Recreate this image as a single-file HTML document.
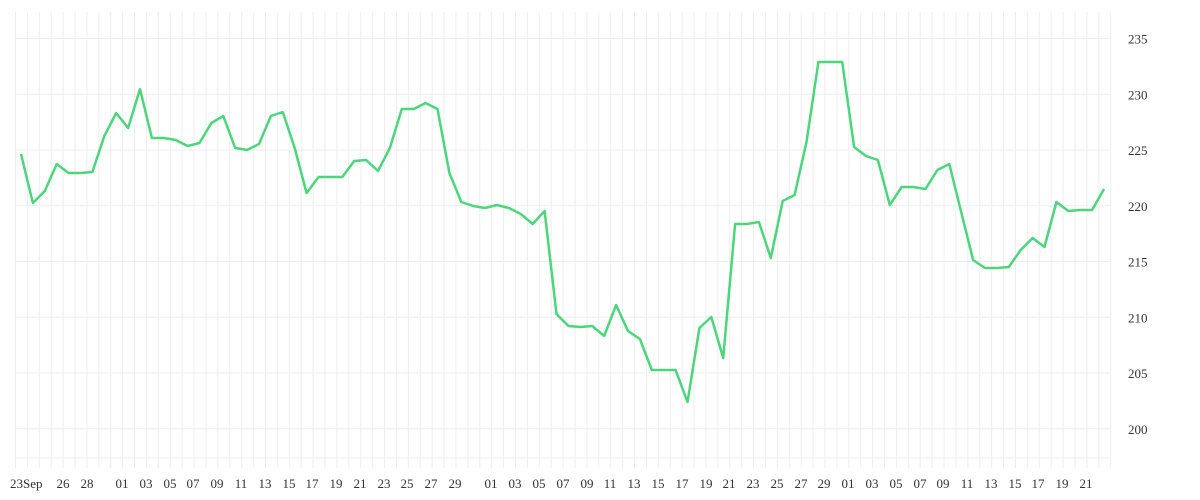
<!DOCTYPE html>
<html><head><meta charset="utf-8"><style>
html,body{margin:0;padding:0;background:#fff;}
svg{display:block;}
text{font-family:"Liberation Serif",serif;font-size:13px;fill:#333;}
</style></head><body>
<svg id="s" width="1200" height="500" xmlns="http://www.w3.org/2000/svg">
<g id="grid" stroke="#eeeeee" stroke-width="1"></g>
<g id="xl"></g>
<g id="yl"></g>
<polyline id="line" fill="none" stroke="#4cd67c" stroke-width="2.5" stroke-linejoin="round"></polyline>
</svg>
<script>
var ns="http://www.w3.org/2000/svg",g=document.getElementById('grid');
function el(p,t,a,txt){var e=document.createElementNS(ns,t);for(var k in a)e.setAttribute(k,a[k]);if(txt)e.textContent=txt;p.appendChild(e);return e;}
for(var i=0;i<93;i++){var x=15.5+i*(1095.2/92);el(g,'line',{x1:x,x2:x,y1:12,y2:468});}
function Y(v){return 38.5+(235-v)*11.15;}
var yl=document.getElementById('yl');
for(var v=200;v<=235;v+=5){var y=Y(v);el(g,'line',{x1:15.5,x2:1110.7,y1:y,y2:y});el(yl,'text',{x:1128,y:y+5},String(v));}
el(g,'line',{x1:15.5,x2:1110.7,y1:458,y2:458});
var labs=[[10,'23Sep'],[63,'26'],[87,'28'],[122,'01'],[146,'03'],[170,'05'],[193,'07'],[217,'09'],[241,'11'],[265,'13'],[289,'15'],[312,'17'],[336,'19'],[360,'21'],[384,'23'],[407,'25'],[431,'27'],[455,'29'],[491,'01'],[515,'03'],[539,'05'],[563,'07'],[587,'09'],[610,'11'],[634,'13'],[658,'15'],[682,'17'],[706,'19'],[729,'21'],[753,'23'],[777,'25'],[801,'27'],[824,'29'],[848,'01'],[872,'03'],[896,'05'],[920,'07'],[943,'09'],[967,'11'],[991,'13'],[1015,'15'],[1038,'17'],[1062,'19'],[1086,'21']];
var xl=document.getElementById('xl');
labs.forEach(function(l){var t=el(xl,'text',{x:l[0],y:488},l[1]);if(l[0]!==10)t.setAttribute('text-anchor','middle');});
var ys=[154,203,191,164,173,173,172,136,113,128,89,138,138,140,146,143,123,116,148,150,144,116,112,148,193,177,177,177,161,160,171,148,109,109,103,109,173,202,206,208,205,208,214,224,211,314,326,327,326,336,305,331,339,370,370,370,402,328,317,358,224,224,222,258,201,195,142,62,62,62,147,156,160,205,187,187,189,170,164,212,260,268,268,267,250,238,247,202,211,210,210,189];
var pts=ys.map(function(y,i){return (21+i*(1083/91)).toFixed(1)+','+y;}).join(' ');
document.getElementById('line').setAttribute('points',pts);
</script>
</body></html>
